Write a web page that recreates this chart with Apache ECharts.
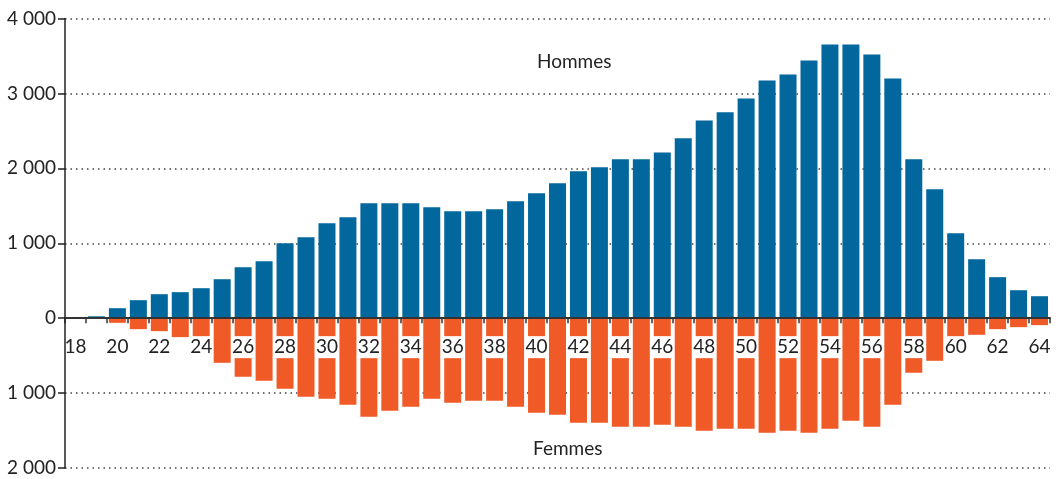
<!DOCTYPE html>
<html>
<head>
<meta charset="utf-8">
<script src="https://cdn.jsdelivr.net/npm/echarts@6/dist/echarts.min.js"></script>
<style>
html,body{margin:0;padding:0;background:#fff;}
#chart{width:1059px;height:479px;}
</style>
</head>
<body>
<div id="chart"></div>
<script>
// ages 18 .. 64
var ages = [];
for (var a = 18; a <= 64; a++) ages.push(String(a));

// hommes (au-dessus de zéro)
var hommes = [0, 25, 133, 240, 320, 347, 400, 520, 680, 760, 1000, 1080, 1267, 1347,
    1533, 1533, 1533, 1480, 1427, 1427, 1453, 1560, 1667, 1800, 1960, 2013, 2120, 2120,
    2213, 2400, 2640, 2747, 2933, 3173, 3253, 3440, 3653, 3653, 3520, 3200, 2120, 1720,
    1133, 787, 547, 373, 293];

// femmes (en dessous de zéro)
var femmes = [0, 0, 62, 147, 173, 253, 320, 596, 782, 836, 942, 1049, 1076, 1156,
    1316, 1236, 1182, 1076, 1129, 1102, 1102, 1182, 1262, 1289, 1396, 1396, 1449, 1449,
    1422, 1449, 1502, 1476, 1476, 1529, 1502, 1529, 1476, 1369, 1449, 1156, 729, 569,
    300, 222, 147, 120, 93];

var yMin = -2000, yMax = 4000, yStep = 1000;

var femmesNeg = femmes.map(function (v) { return -v; });

var font = 'Lato, "Open Sans", sans-serif';
var gridTop = 18.5, gridBottom = 11, H = 479;
// l'axe des âges est posé sur le zéro
var zeroOffset = (H - gridTop - gridBottom) * (0 - yMin) / (yMax - yMin);

function fmt(v) {
    var s = String(Math.abs(v));
    return s.replace(/\B(?=(\d{3})+(?!\d))/g, ' ');
}

var myChart = echarts.init(document.getElementById('chart'));
var option = {
    animation: false,
    grid: {left: 65, right: 9, top: gridTop, bottom: gridBottom, outerBoundsMode: 'none', containLabel: false},
    textStyle: {fontFamily: font},
    xAxis: {
        type: 'category',
        data: ages,
        position: 'bottom',
        offset: -zeroOffset,
        z: 5,
        axisLine: {onZero: false, lineStyle: {color: '#333', width: 2}},
        axisTick: {show: true, length: 5, interval: 0, lineStyle: {color: '#333', width: 1.5}},
        axisLabel: {
            interval: 1,
            margin: 18,
            fontSize: 19,
            lineHeight: 20,
            color: '#222',
            fontFamily: font,
            backgroundColor: '#fff',
            padding: [1, 0]
        },
        splitLine: {show: false}
    },
    yAxis: [
        {
            // grille pointillée, derrière les barres
            type: 'value',
            min: yMin,
            max: yMax,
            interval: yStep,
            axisLine: {show: false},
            axisTick: {show: false},
            axisLabel: {show: false},
            splitLine: {show: true, lineStyle: {color: '#444', width: 1.5, type: [1.5, 4]}}
        },
        {
            // axe, graduations et libellés, au premier plan
            type: 'value',
            position: 'left',
            min: yMin,
            max: yMax,
            interval: yStep,
            z: 10,
            axisLine: {show: true, lineStyle: {color: '#222', width: 1.5}},
            axisTick: {show: true, length: 7, lineStyle: {color: '#222', width: 1.5}},
            axisLabel: {margin: 9, fontSize: 19, color: '#222', fontFamily: font, formatter: fmt},
            splitLine: {show: false}
        }
    ],
    series: [
        {
            name: 'Hommes',
            type: 'bar',
            stack: 'pop',
            data: hommes,
            barWidth: 17,
            itemStyle: {color: '#02679c'}
        },
        {
            name: 'Femmes',
            type: 'bar',
            stack: 'pop',
            data: femmesNeg,
            barWidth: 17,
            itemStyle: {color: '#f05a27'}
        }
    ],
    graphic: [
        {type: 'text', left: 537, top: 52, style: {text: 'Hommes', fontSize: 19, fontFamily: font, fill: '#222'}},
        {type: 'text', left: 533, top: 439, style: {text: 'Femmes', fontSize: 19, fontFamily: font, fill: '#222'}}
    ]
};
myChart.setOption(option);
</script>
</body>
</html>
